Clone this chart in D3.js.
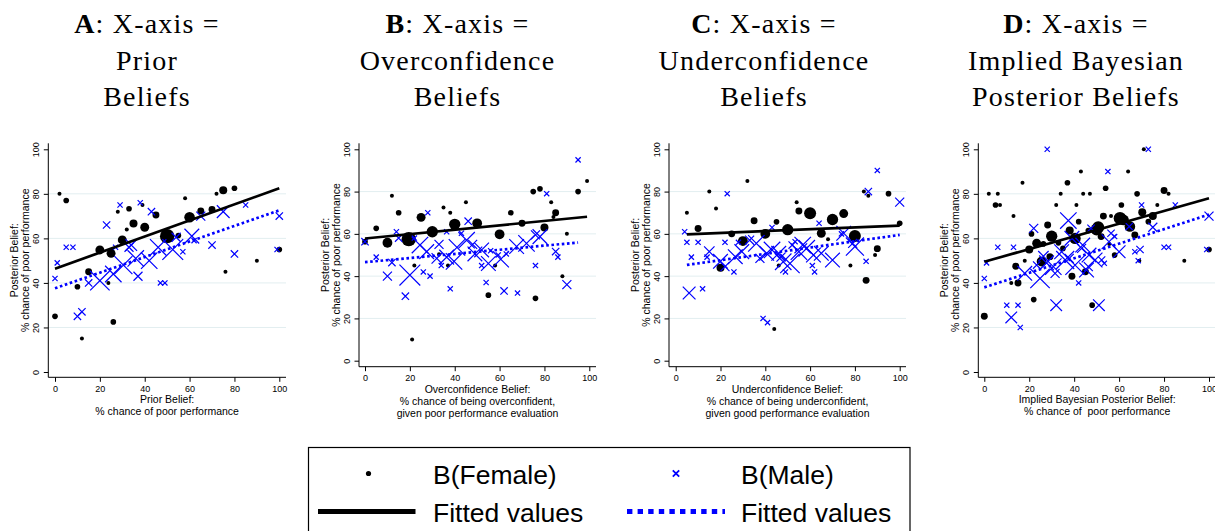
<!DOCTYPE html>
<html>
<head>
<meta charset="utf-8">
<script src="https://cdn.jsdelivr.net/npm/d3@7"></script>
<style>
  html, body { margin: 0; padding: 0; background: #fff; }
  svg { display: block; }
  text { white-space: pre; }
</style>
</head>
<body>
<svg id="chart" width="1215" height="531"></svg>
<script>
// ---- Data: [x, y, weight] per point; weight = number of respondents at that point ----
const femaleA = [
  [2,80,1],[5,77,2],[10,38.3,2],[12,15,1],[0,25,2],[15,45,3],[20,54.8,5],[25,53.3,5],[23.8,40,1],
  [26,22.5,2],[28,72,1],[30,59.3,5],[32,64,1],[33,73.3,2],[35,66.7,4],[39,75,1],[40,65,5],[45,70.5,3],
  [50,61,13],[55,61.3,2],[58,78,1],[60,69.5,7],[65,72.3,3],[70,73,3],[72,80,1],[75,81.6,4],[80,82.5,2],
  [76,45,1],[90,50,1],[100,55,2]
];
const maleA = [
  [0,42,1],[1,49,1],[5,56,1],[8,56,1],[10,25,2],[12,27,2],[15,40,2],[23,66,2],[29,75,1],[38,76,1],
  [43,72,2],[20,41,14],[26,44,10],[30.5,48,12],[36,51,10],[34,57,5],[33,56,3],[27,56,1],[37,43,3],
  [42,50,10],[46,56,10],[52.5,55,16],[54,60.5,3],[61,61,8],[62,59,1],[57,54,1],[47,40,1],[49,40,1],
  [65,70,3],[70,57,2],[75,72,6],[80,53,2],[85,75,1],[99,55,1],[100,70,2]
];
const fitFemaleA = [[0,46.4],[100,82.5]];
const fitMaleA = [[0,37.6],[100,72.6]];

const femaleB = [
  [0,56.3,2],[5,62.6,2],[10,55.8,6],[12,78,1],[15,70,2],[19.5,57.5,13],[21,10,1],[22,45,1],[25,67.8,5],
  [30,61,8],[33,50.3,1],[35,72.5,1],[37,45,1],[38,70,1],[40,64.5,8],[45,75,1],[50,65,6],[55,31,2],
  [58,45,1],[60,59.8,6],[65,70,2],[70,65,3],[75,80,2],[78,81.3,2],[76,29.5,2],[83,75,1],[85,70,3],
  [80,63,4],[88,40,1],[90,60,1],[95,80,2],[99,85,1],[84,68,1]
];
const maleB = [
  [0,56.3,2],[5,49,1],[10,40,3],[12,46.4,2],[14,61,1],[15,58,2],[18,30.5,2],[20,40.5,16],[22,58,1],
  [28,70,1],[24.5,54.7,10],[26,42,1],[29,40,1],[27.5,51.6,8],[32,48.4,4],[33,55,3],[34,45,1],[36.4,61,1],
  [36.4,49,8],[38,34,1],[39.7,47,10],[41,53.6,10],[43,60.3,1],[46,66,2],[45.3,57,10],[48,55,3],
  [49,50.5,8],[52,52.4,8],[52,45,1],[54,37,1],[55,46,8],[56,52,1],[60.5,48,10],[59.4,50,1],[62,33,2],
  [63,50.5,1],[67.6,54,8],[68,32,1],[72,55.5,10],[76,59.5,3],[76,45,1],[78,58.7,8],[81,79,1],[85,51.6,2],
  [86,49,1],[90,36,3],[95,95,1]
];
const fitFemaleB = [[0,57.8],[99,68.1]];
const fitMaleB = [[0,46.6],[95,55.9]];

const femaleC = [
  [5,70,1],[10,62.5,3],[15,80,1],[18,72,1],[20,44,4],[25,60,3],[30,56.6,6],[32,85,1],[35,66.2,3],
  [40,60,6],[45,65.7,2],[46,45,1],[44,15,1],[50,62,8],[54,75,1],[55,70.8,3],[60,69.7,9],[65,60.3,5],
  [68,57.5,1],[70,66.8,8],[75,69.6,5],[78,45,1],[80,59,9],[84,80,1],[86,78,1],[85,38,3],[89,50,1],
  [90,53,3],[95,79,2],[100,65,2]
];
const maleC = [
  [4,61,1],[5,56,1],[6,32,6],[7,49,1],[10,56,1],[12,34,1],[14,49,1],[15,51.6,4],[20,47,8],[22,44.5,3],
  [22,56,1],[23,79,1],[26,42,1],[26.6,49.2,8],[28,56,1],[29.5,51.6,8],[33,57,3],[36,55.5,10],[37.6,48.4,3],
  [39,20,1],[41,18,1],[40.6,50.8,8],[43,52.4,10],[43,63,1],[46,50.8,8],[47,49,3],[49,42,1],[48,46.8,10],
  [51,46,14],[52,54.7,2],[53.3,56.3,1],[55,51.6,10],[56.7,54.7,10],[58.5,53.2,10],[61,45,1],[61.5,50,8],
  [62,42,1],[64,65,1],[65,50.8,8],[70,47.6,8],[74,60,1],[75,60.3,8],[79,55.5,3],[80,54,12],[85,47,1],
  [86,80,2],[90,90,1],[100,75,3]
];
const fitFemaleC = [[5,59.8],[100,63.9]];
const fitMaleC = [[5,45.3],[100,59.5]];

const femaleD = [
  [0,25,3],[2,80,1],[5,75,2],[6,80,1],[7,75,1],[12,40,1],[13,70,1],[14,47.5,3],[15,40,3],[17,85,1],
  [18,50,1],[20,55,4],[21,62,2],[22,32.5,2],[23.3,57.8,5],[25.5,49.6,6],[26.3,57.5,2],[28.2,66,3],
  [29.2,51.8,3],[30,61,8],[32,75,1],[33,58,2],[34,80,1],[35,55.5,2],[37,85,2],[38,63.5,4],[39,43,3],
  [40.4,60,8],[41,75,1],[42,67.5,2],[43,90,1],[44,80,1],[45,45,3],[46.3,63.5,2],[47,80,1],[48,30,2],
  [50,64,9],[50.7,65,9],[52,60.8,3],[53,70,3],[54,82.5,2],[55.6,57.5,1],[56.4,70,1],[58,52.5,2],
  [60.4,69,10],[61,75,2],[62,68.3,7],[64,90,1],[64.8,65.3,7],[67,61.5,3],[68,80,2],[69,50,1],
  [70.3,71.7,4],[73,67.5,2],[71,100,1],[75,70,4],[77,75,1],[80,81.5,3],[82,80,1],[89,50,1],[100,55,2]
];
const maleD = [
  [0,42,1],[1,49,1],[6,56,1],[10,30,1],[12,24.5,5],[13,56,1],[15,30,1],[16,20,1],[18,44.3,8],[22,64.5,3],
  [23.3,48,2],[24.8,42,14],[28,100,1],[26.3,52,4],[27.7,49,8],[30.7,47.3,10],[32,30,5],[31.5,44.3,3],
  [34.4,54,8],[36,50.3,12],[37.4,68,10],[37.8,51,3],[39,60,8],[40.4,48,14],[42,40,1],[43.3,55.5,3],
  [43.8,57,8],[45.5,45.8,8],[46.6,52.5,8],[46.3,47.3,3],[47.5,64.5,2],[49.3,50.3,8],[51,30,5],
  [52.2,50.3,2],[53.4,48.8,1],[55,90,1],[55.5,58.5,8],[56.4,62.3,2],[58,60.8,1],[60,54,6],[64.5,65.3,2],
  [67,54,1],[68.5,50,1],[69.3,55,2],[70,75,1],[73,100,1],[75,65,3],[80,56,1],[82,56,1],[85,75,1],
  [99,55,1],[100,70,3]
];
const fitFemaleD = [[0,49.5],[100,78]];
const fitMaleD = [[0,38],[100,70.7]];

// ---- Labels ----
const panelLetters = ["A", "B", "C", "D"];
const titleLine2 = ["Prior", "Overconfidence", "Underconfidence", "Implied Bayesian"];
const titleLine3 = ["Beliefs", "Beliefs", "Beliefs", "Posterior Beliefs"];
const xTitles = [
  ["Prior Belief:", "% chance of poor performance"],
  ["Overconfidence Belief:", "% chance of being overconfident,", "given poor performance evaluation"],
  ["Underconfidence Belief:", "% chance of being underconfident,", "given good performance evaluation"],
  ["Implied Bayesian Posterior Belief:", "% chance of  poor performance"]
];
const yTitle = ["Posterior Belief:", "% chance of poor performance"];
const tickValues = [0, 20, 40, 60, 80, 100];
const gridValues = [20, 40, 60, 80];
const legendLabels = ["B(Female)", "B(Male)", "Fitted values", "Fitted values"];

const female = [femaleA, femaleB, femaleC, femaleD];
const male = [maleA, maleB, maleC, maleD];
const fitFemale = [fitFemaleA, fitFemaleB, fitFemaleC, fitFemaleD];
const fitMale = [fitMaleA, fitMaleB, fitMaleC, fitMaleD];

// ---- Layout of each sub-graph ----
const layout = [
  { left: 48.3,  right: 286,  top: 143.3, bottom: 377.3, xr: [55, 279.3],    yr: [372, 149.3],   titleX: 147 },
  { left: 359,   right: 596,  top: 143.3, bottom: 366.7, xr: [365, 589.3],   yr: [360.7, 149.3], titleX: 457.5 },
  { left: 669,   right: 906,  top: 143.3, bottom: 366.7, xr: [675.7, 899.7], yr: [360.7, 149.3], titleX: 764 },
  { left: 978.3, right: 1216, top: 143.3, bottom: 377.3, xr: [984.3, 1209],  yr: [372, 149.3],   titleX: 1076 }
];

const BLUE = "#0000ff";
const GRID = "#e2eef0";
const SANS = "'Liberation Sans', Arial, Helvetica, sans-serif";
const SERIF = "'Liberation Serif', 'Times New Roman', serif";

const svg = d3.select("#chart");
const rCircle = d3.scaleSqrt().domain([0, 16]).range([0, 8]);
const rCross = d3.scaleSqrt().domain([0, 16]).range([0, 10.4]);

function crossPath(cx, cy, h) {
  return `M${cx - h},${cy - h}L${cx + h},${cy + h}M${cx - h},${cy + h}L${cx + h},${cy - h}`;
}

layout.forEach((L, i) => {
  const g = svg.append("g");
  const x = d3.scaleLinear().domain([0, 100]).range(L.xr);
  const y = d3.scaleLinear().domain([0, 100]).range(L.yr);

  // Panel title (three centred lines)
  const t = g.append("g").attr("font-family", SERIF).attr("font-size", 28)
    .attr("letter-spacing", 1.2).attr("text-anchor", "middle").attr("fill", "#000");
  const t1 = t.append("text").attr("x", L.titleX).attr("y", 32.7);
  t1.append("tspan").attr("font-weight", "bold").text(panelLetters[i]);
  t1.append("tspan").text(": X-axis =");
  t.append("text").attr("x", L.titleX).attr("y", 70).text(titleLine2[i]);
  t.append("text").attr("x", L.titleX).attr("y", 106).text(titleLine3[i]);

  // Horizontal grid lines
  g.append("g").selectAll("line").data(gridValues).join("line")
    .attr("x1", L.left).attr("x2", L.right)
    .attr("y1", d => y(d)).attr("y2", d => y(d))
    .attr("stroke", GRID).attr("stroke-width", 1);

  // Y axis
  const ya = g.append("g").attr("transform", `translate(${L.left},0)`)
    .call(d3.axisLeft(y).tickValues(tickValues).tickSize(4.5).tickSizeOuter(0));
  ya.select(".domain").remove();
  ya.selectAll("line").attr("stroke", "#000");
  ya.selectAll("text")
    .attr("x", null).attr("dy", "0.35em")
    .attr("transform", "translate(-12,0) rotate(-90)")
    .attr("text-anchor", "middle")
    .attr("font-family", SANS).attr("font-size", 9).attr("fill", "#000");

  // X axis
  const xa = g.append("g").attr("transform", `translate(0,${L.bottom})`)
    .call(d3.axisBottom(x).tickValues(tickValues).tickSize(4.5).tickSizeOuter(0));
  xa.select(".domain").remove();
  xa.selectAll("line").attr("stroke", "#000");
  xa.selectAll("text")
    .attr("y", 11.5).attr("dy", "0.35em")
    .attr("font-family", SANS).attr("font-size", 9).attr("fill", "#000");

  // Axis lines spanning the plot region
  g.append("line").attr("x1", L.left).attr("x2", L.left).attr("y1", L.top).attr("y2", L.bottom)
    .attr("stroke", "#000").attr("stroke-width", 1);
  g.append("line").attr("x1", L.left).attr("x2", L.right).attr("y1", L.bottom).attr("y2", L.bottom)
    .attr("stroke", "#000").attr("stroke-width", 1);

  // Axis titles
  const midX = (L.left + L.right) / 2;
  const xt = g.append("g").attr("font-family", SANS).attr("font-size", 10.5)
    .attr("text-anchor", "middle").attr("fill", "#000");
  xTitles[i].forEach((s, k) => {
    xt.append("text").attr("x", midX).attr("y", L.bottom + 22.4 + k * 12).attr("dy", "0.35em").text(s);
  });
  const midY = (L.top + L.bottom) / 2;
  const ytg = g.append("g").attr("font-family", SANS).attr("font-size", 10.5)
    .attr("text-anchor", "middle").attr("fill", "#000");
  yTitle.forEach((s, k) => {
    ytg.append("text").attr("dy", "0.35em")
      .attr("transform", `translate(${L.left - 34 + k * 11},${midY}) rotate(-90)`).text(s);
  });

  // Female: black circles sized by weight
  g.append("g").selectAll("circle").data(female[i]).join("circle")
    .attr("cx", d => x(d[0])).attr("cy", d => y(d[1])).attr("r", d => rCircle(d[2]))
    .attr("fill", "#000");

  // Male: blue crosses sized by weight
  g.append("g").selectAll("path").data(male[i]).join("path")
    .attr("d", d => crossPath(x(d[0]), y(d[1]), rCross(d[2])))
    .attr("stroke", BLUE).attr("stroke-width", 1.2).attr("fill", "none");

  // Fitted values
  const line = d3.line().x(d => x(d[0])).y(d => y(d[1]));
  g.append("path").datum(fitFemale[i]).attr("d", line)
    .attr("stroke", "#000").attr("stroke-width", 2.7).attr("fill", "none");
  g.append("path").datum(fitMale[i]).attr("d", line)
    .attr("stroke", BLUE).attr("stroke-width", 2.7).attr("stroke-dasharray", "2.6,2.6").attr("fill", "none");
});

// ---- Legend ----
const lg = svg.append("g");
lg.append("rect").attr("x", 308.5).attr("y", 447.5).attr("width", 601.5).attr("height", 120)
  .attr("fill", "none").attr("stroke", "#000").attr("stroke-width", 1.2);
const row1 = 474.5, row2 = 511.5;
lg.append("circle").attr("cx", 368.5).attr("cy", row1 - 1).attr("r", 2.6).attr("fill", "#000");
lg.append("path").attr("d", crossPath(676, row1 - 1, 3.2)).attr("stroke", BLUE).attr("stroke-width", 1.8);
lg.append("line").attr("x1", 318).attr("x2", 415.5).attr("y1", row2).attr("y2", row2)
  .attr("stroke", "#000").attr("stroke-width", 5);
lg.append("line").attr("x1", 627).attr("x2", 725).attr("y1", row2).attr("y2", row2)
  .attr("stroke", BLUE).attr("stroke-width", 5).attr("stroke-dasharray", "5.4,5.2");
const lt = lg.append("g").attr("font-family", SANS).attr("font-size", 26.5).attr("fill", "#000");
lt.append("text").attr("x", 433).attr("y", 484.3).text(legendLabels[0]);
lt.append("text").attr("x", 741).attr("y", 484.3).text(legendLabels[1]);
lt.append("text").attr("x", 433).attr("y", 521.7).text(legendLabels[2]);
lt.append("text").attr("x", 741).attr("y", 521.7).text(legendLabels[3]);
</script>
</body>
</html>
